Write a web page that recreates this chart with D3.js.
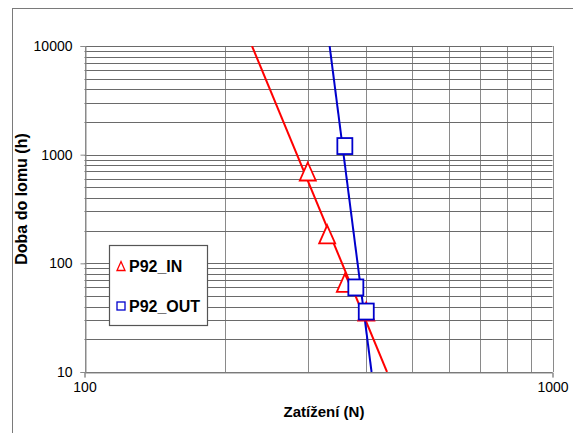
<!DOCTYPE html>
<html>
<head>
<meta charset="utf-8">
<script src="https://cdn.jsdelivr.net/npm/d3@7"></script>
<style>
  body { margin: 0; background: #fff; }
  text { font-family: "Liberation Sans", Arial, sans-serif; fill: #000; }
</style>
</head>
<body>
<svg id="chart" width="573" height="433"></svg>
<script>
// values
const xTicks = [100, 1000];
const yTicks = [10, 100, 1000, 10000];
const inLoad = [300, 330, 360, 400];
const inTime = [700, 185, 66, 36];
const outLoad = [360, 380, 400];
const outTime = [1200, 60, 36];
const seriesNames = ["P92_IN", "P92_OUT"];

const margin = { top: 46, right: 20.5, bottom: 61, left: 84.5 };
const width = 573, height = 433;

const svg = d3.select("#chart");

// outer frame of the chart object
svg.append("rect")
    .attr("x", 12.5).attr("y", 8.5)
    .attr("width", 600).attr("height", 500)
    .attr("fill", "none").attr("stroke", "#7a7a7a").attr("stroke-width", 1);

const x = d3.scaleLog()
    .domain([100, 1000])
    .range([margin.left, width - margin.right]);

const y = d3.scaleLog()
    .domain([10, 10000])
    .range([height - margin.bottom, margin.top]);

// minor + major values for the grid
const minor = (dom) => {
    const out = [];
    for (let d = dom[0]; d < dom[1]; d *= 10) {
        for (let k = 1; k <= 9; k++) out.push(d * k);
    }
    out.push(dom[1]);
    return out;
};

const grid = svg.append("g").attr("stroke", "#8a8a8a").attr("stroke-width", 1);

grid.selectAll(".gx")
    .data(minor(x.domain()))
    .enter().append("line")
    .attr("x1", d => Math.round(x(d)) + 0.5)
    .attr("x2", d => Math.round(x(d)) + 0.5)
    .attr("y1", y(10000))
    .attr("y2", y(10));

grid.selectAll(".gy")
    .data(minor(y.domain()))
    .enter().append("line")
    .attr("stroke", "#6a6a6a")
    .attr("x1", x(100))
    .attr("x2", x(1000))
    .attr("y1", d => Math.round(y(d)) + 0.5)
    .attr("y2", d => Math.round(y(d)) + 0.5);

// axes
const xAxis = svg.append("g")
    .attr("transform", `translate(0,${Math.round(y(10)) + 0.5})`)
    .call(d3.axisBottom(x).tickValues(xTicks).tickFormat(d3.format("d")).tickSize(5).tickPadding(5));

const yAxis = svg.append("g")
    .attr("transform", `translate(${Math.round(x(100)) + 0.5},0)`)
    .call(d3.axisLeft(y).tickValues(yTicks).tickFormat(d3.format("d")).tickSize(5).tickPadding(8));

[xAxis, yAxis].forEach(g => {
    g.select(".domain").attr("stroke", "#8a8a8a");
    g.selectAll(".tick line").attr("stroke", "#8a8a8a");
    g.selectAll(".tick text")
        .attr("font-size", 14)
        .attr("font-family", "Liberation Sans, Arial, sans-serif")
        .attr("fill", "#000");
});

// axis titles
svg.append("text")
    .attr("x", 324)
    .attr("y", 417)
    .attr("text-anchor", "middle")
    .attr("font-size", 15)
    .attr("font-weight", "bold")
    .text("Zatížení (N)");

svg.append("text")
    .attr("transform", "translate(27,199) rotate(-90)")
    .attr("text-anchor", "middle")
    .attr("font-size", 16)
    .attr("font-weight", "bold")
    .text("Doba do lomu (h)");

// power trendline: least squares in log-log space
function powerFit(xs, ys) {
    const lx = xs.map(Math.log10), ly = ys.map(Math.log10);
    const mx = d3.mean(lx), my = d3.mean(ly);
    const b = d3.sum(lx, (v, i) => (v - mx) * (ly[i] - my)) / d3.sum(lx, v => (v - mx) * (v - mx));
    return { b, a: my - b * mx };
}

svg.append("clipPath").attr("id", "plotClip")
    .append("rect")
    .attr("x", x(100)).attr("y", y(10000))
    .attr("width", x(1000) - x(100)).attr("height", y(10) - y(10000));

const series = [
    { name: seriesNames[0], load: inLoad, time: inTime, color: "#ff0000", shape: "tri" },
    { name: seriesNames[1], load: outLoad, time: outTime, color: "#0000cc", shape: "sq" }
];

const plot = svg.append("g").attr("clip-path", "url(#plotClip)");

series.forEach(s => {
    const fit = powerFit(s.load, s.time);
    const loadAt = t => Math.pow(10, (Math.log10(t) - fit.a) / fit.b);
    const ends = [10000, 10].map(t => [loadAt(t), t]);
    plot.append("path")
        .attr("d", d3.line().x(d => x(d[0])).y(d => y(d[1]))(ends))
        .attr("fill", "none")
        .attr("stroke", s.color)
        .attr("stroke-width", 2);
});

const triPath = (cx, cy, w, h) =>
    `M${cx},${cy - h / 2}L${cx + w / 2},${cy + h / 2}L${cx - w / 2},${cy + h / 2}Z`;

series.forEach(s => {
    s.load.forEach((l, i) => {
        const cx = x(l), cy = y(s.time[i]);
        if (s.shape === "tri") {
            svg.append("path")
                .attr("d", triPath(cx, cy, 16, 18))
                .attr("fill", "#fff")
                .attr("stroke", s.color)
                .attr("stroke-width", 1.8);
        } else {
            svg.append("rect")
                .attr("x", cx - 7.5).attr("y", cy - 8)
                .attr("width", 15).attr("height", 16)
                .attr("fill", "#fff")
                .attr("stroke", s.color)
                .attr("stroke-width", 1.8);
        }
    });
});

// legend
const legend = svg.append("g");
legend.append("rect")
    .attr("x", 109.5).attr("y", 245.5)
    .attr("width", 98).attr("height", 80)
    .attr("fill", "#fff")
    .attr("stroke", "#555")
    .attr("stroke-width", 1.2);

series.forEach((s, i) => {
    const ly = 266 + i * 40;
    if (s.shape === "tri") {
        legend.append("path")
            .attr("d", triPath(121, ly, 8, 9))
            .attr("fill", "#fff").attr("stroke", s.color).attr("stroke-width", 1.3);
    } else {
        legend.append("rect")
            .attr("x", 117).attr("y", ly - 4)
            .attr("width", 8).attr("height", 8)
            .attr("fill", "#fff").attr("stroke", s.color).attr("stroke-width", 1.3);
    }
    legend.append("text")
        .attr("x", 129)
        .attr("y", ly + 6)
        .attr("font-size", 16)
        .attr("font-weight", "bold")
        .text(s.name);
});
</script>
</body>
</html>
